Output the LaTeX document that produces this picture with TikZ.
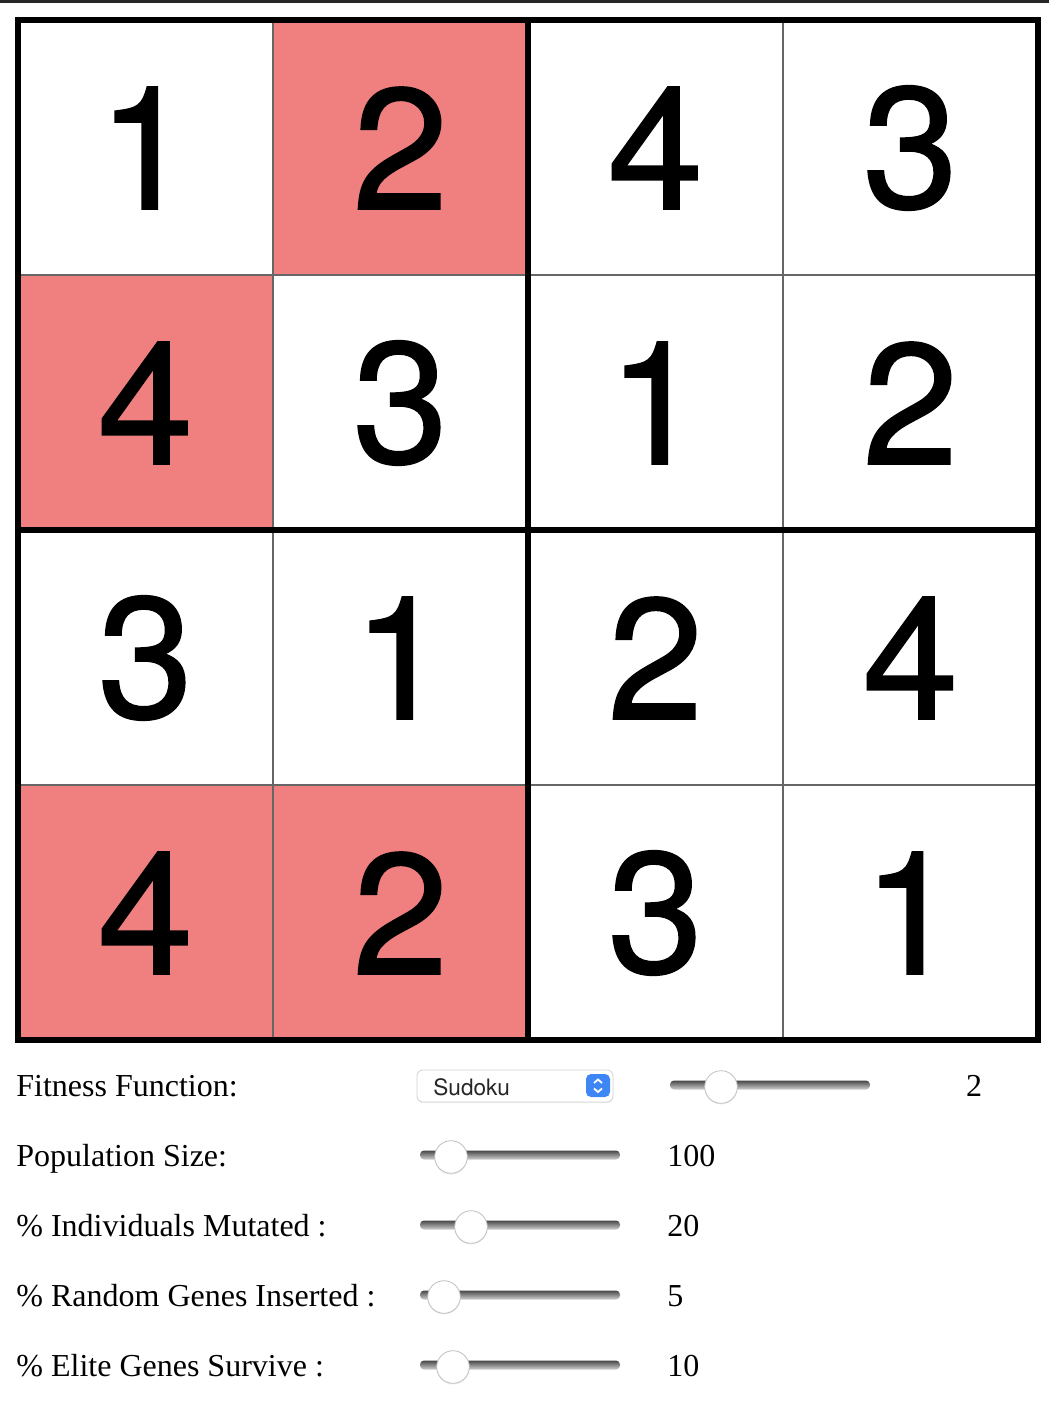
\documentclass[tikz,border=0pt]{standalone}
\usepackage{fontspec}
\setmainfont{Liberation Serif}
\newfontfamily\digitfont[FakeBold=1]{TeX Gyre Heros}
\newfontfamily\uifont{TeX Gyre Heros}
\usetikzlibrary{shadows}
\definecolor{cellred}{HTML}{F08080}
\definecolor{selblue}{HTML}{3F86F5}
\tikzset{
  digit/.style={inner sep=0pt, font=\digitfont\fontsize{86}{86}\selectfont},
  thinline/.style={draw=black!60, line width=1pt},
  thickline/.style={draw=black, line width=3.4pt},
  formlabel/.style={anchor=base west, inner sep=0pt, font=\fontsize{16}{19}\selectfont},
  formvalue/.style={anchor=base west, inner sep=0pt, font=\fontsize{16}{19}\selectfont},
  track/.style={top color=black!72, bottom color=black!18, rounded corners=2pt},
  thumb/.style={circle, draw=black!25, fill=white, inner sep=0pt, minimum size=16.3pt,
    drop shadow={shadow xshift=0pt, shadow yshift=-0.6pt, opacity=0.15}},
}
\begin{document}
\begin{tikzpicture}[x=0.5pt,y=-0.5pt]
\useasboundingbox (0,0) rectangle (1049,1411);
\fill[black!85] (0,0) rectangle (1049,3);
% board
\foreach \c/\r in {2/1,1/2,1/4,2/4}
	\fill[cellred] ({18+255*(\c-1)},{20+255*(\r-1)}) rectangle +(255,255);
\foreach \k in {273,783}
	\draw[thinline] (\k,20) -- (\k,1040);
\foreach \k in {275,785}
	\draw[thinline] (18,\k) -- (1038,\k);
\draw[thickline] (528,20) -- (528,1040);
\draw[thickline] (18,530) -- (1038,530);
\draw[thickline] (18,20) rectangle (1038,1040);
\foreach \r/\row in {1/{1,2,4,3},2/{4,3,1,2},3/{3,1,2,4},4/{4,2,3,1}}
	\foreach \d [count=\c] in \row
		\node[digit] (d\r\c) at ({145.5+255*(\c-1)},{148+255*(\r-1)}) {\d};
% controls
\node[formlabel] (fitness) at (16,1096) {Fitness Function:};
\node[formlabel] (popsize) at (16,1166) {Population Size:};
\node[formlabel] (mutated) at (16,1236) {\% Individuals Mutated :};
\node[formlabel] (random) at (16,1306) {\% Random Genes Inserted :};
\node[formlabel] (elite) at (16,1376) {\% Elite Genes Survive :};
\draw[draw=black!18, fill=white, rounded corners=3pt,
	drop shadow={shadow xshift=0pt, shadow yshift=-0.5pt, opacity=0.12}] (417,1070) rectangle (613,1102);
\node[anchor=base west, inner sep=0pt, text=black!85, font=\uifont\fontsize{11.3}{13}\selectfont] (sudoku) at (433,1095) {Sudoku};
\fill[selblue, rounded corners=2.5pt] (586,1074) rectangle (610,1097);
\draw[white, line width=0.9pt] (594,1083) -- (598,1079.5) -- (602,1083);
\draw[white, line width=0.9pt] (594,1088.5) -- (598,1092) -- (602,1088.5);
\foreach \n/\x/\y/\a/\b in {1/721/1085/670/870,2/451/1155/420/620,3/471/1225/420/620,4/444/1295/420/620,5/453/1365/420/620}
{
	\shade[track] (\a,\y-4.5) rectangle (\b,\y+4.5);
	\node[thumb] (thumb\n) at (\x,\y+2) {};
}
\node[anchor=base, inner sep=0pt, font=\fontsize{16}{19}\selectfont] (val1) at (974,1096) {2};
\node[formvalue] (val2) at (667,1166) {100};
\node[formvalue] (val3) at (667,1236) {20};
\node[formvalue] (val4) at (667,1306) {5};
\node[formvalue] (val5) at (667,1376) {10};
\end{tikzpicture}
\end{document}
